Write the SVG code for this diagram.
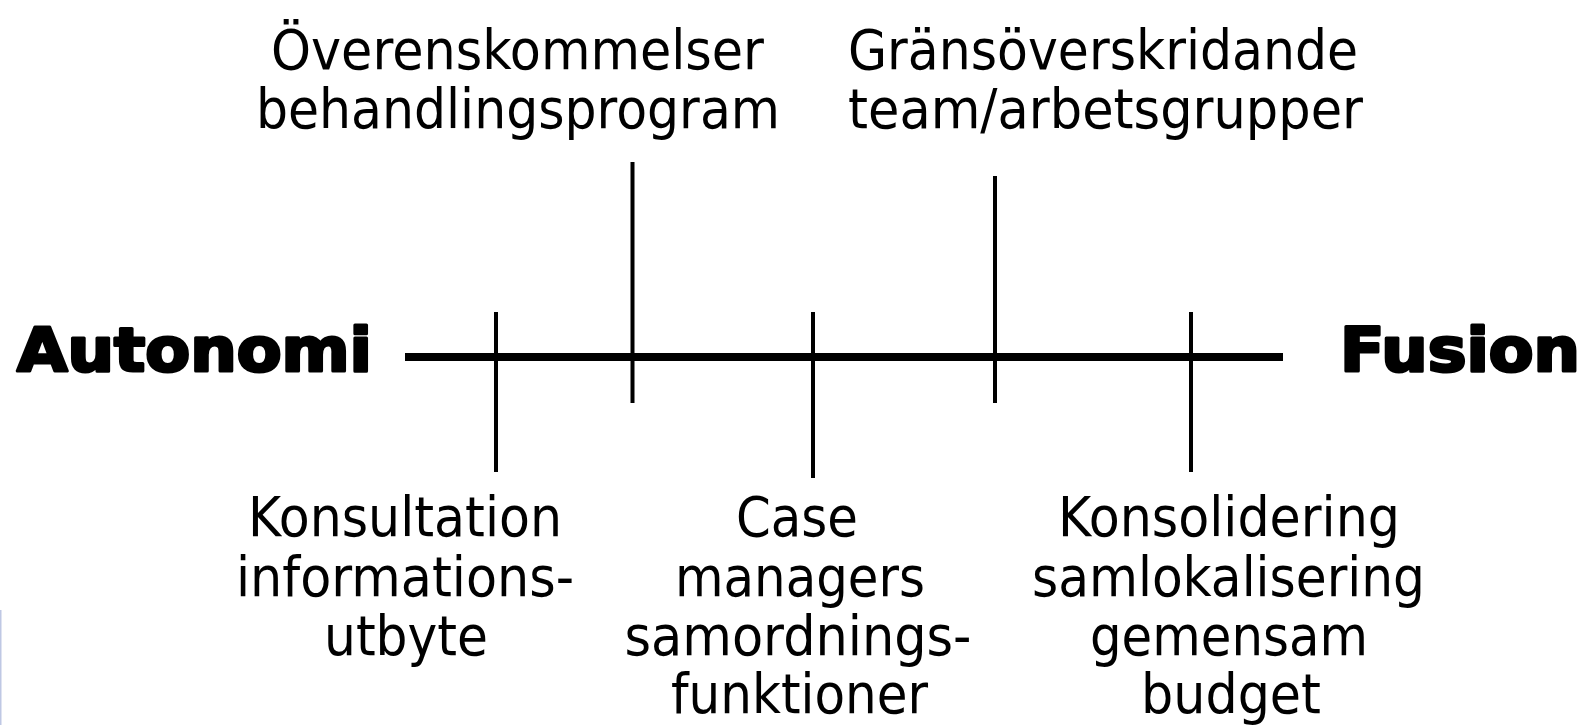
<svg xmlns="http://www.w3.org/2000/svg" width="1587" height="725" viewBox="0 0 1587 725">
<style>
.lbl{font-family:"DejaVu Sans","Verdana",sans-serif;font-size:55px;fill:#000;text-anchor:middle}
.end{font-family:"DejaVu Sans","Verdana",sans-serif;font-weight:bold;font-size:60px;fill:#000;stroke:#000;stroke-width:3;stroke-linejoin:round}
.tick{stroke:#000;stroke-width:4;fill:none}
.axis{stroke:#000;stroke-width:8;fill:none}
</style>
<rect x="0" y="0" width="1587" height="725" fill="#fff"/>
<rect x="0" y="610" width="1.5" height="115" fill="#bfc8e4"/>
<g id="connectors">
<line class="axis" x1="405" y1="357" x2="1283" y2="357"/>
<line class="tick" x1="496" y1="312" x2="496" y2="472"/>
<line class="tick" x1="632.5" y1="162" x2="632.5" y2="403"/>
<line class="tick" x1="813" y1="312" x2="813" y2="478"/>
<line class="tick" x1="995" y1="176" x2="995" y2="403"/>
<line class="tick" x1="1191" y1="312" x2="1191" y2="472"/>
</g>
<g id="autonomi"><text class="end" x="17" y="371" textLength="355" lengthAdjust="spacingAndGlyphs">Autonomi</text></g>
<g id="fusion"><text class="end" x="1340" y="371" textLength="240" lengthAdjust="spacingAndGlyphs">Fusion</text></g>
<g id="n-overens">
<text class="lbl" x="517.5" y="69" textLength="493" lengthAdjust="spacingAndGlyphs">Överenskommelser</text>
<text class="lbl" x="518" y="128" textLength="524" lengthAdjust="spacingAndGlyphs">behandlingsprogram</text>
</g>
<g id="n-gransoverskridande">
<text class="lbl" x="1103" y="69" textLength="510" lengthAdjust="spacingAndGlyphs">Gränsöverskridande</text>
<text class="lbl" x="1105.5" y="128" textLength="515" lengthAdjust="spacingAndGlyphs">team/arbetsgrupper</text>
</g>
<g id="n-konsultation">
<text class="lbl" x="405" y="536" textLength="314" lengthAdjust="spacingAndGlyphs">Konsultation</text>
<text class="lbl" x="405" y="596" textLength="338" lengthAdjust="spacingAndGlyphs">informations-</text>
<text class="lbl" x="406" y="655" textLength="164" lengthAdjust="spacingAndGlyphs">utbyte</text>
</g>
<g id="n-case">
<text class="lbl" x="797" y="536" textLength="122" lengthAdjust="spacingAndGlyphs">Case</text>
<text class="lbl" x="800" y="596" textLength="250" lengthAdjust="spacingAndGlyphs">managers</text>
<text class="lbl" x="798" y="655" textLength="347" lengthAdjust="spacingAndGlyphs">samordnings-</text>
<text class="lbl" x="799.5" y="713" textLength="257" lengthAdjust="spacingAndGlyphs">funktioner</text>
</g>
<g id="n-konsolidering">
<text class="lbl" x="1229" y="536" textLength="342" lengthAdjust="spacingAndGlyphs">Konsolidering</text>
<text class="lbl" x="1228.5" y="596" textLength="393" lengthAdjust="spacingAndGlyphs">samlokalisering</text>
<text class="lbl" x="1229" y="655" textLength="278" lengthAdjust="spacingAndGlyphs">gemensam</text>
<text class="lbl" x="1231" y="713" textLength="180" lengthAdjust="spacingAndGlyphs">budget</text>
</g>
</svg>
